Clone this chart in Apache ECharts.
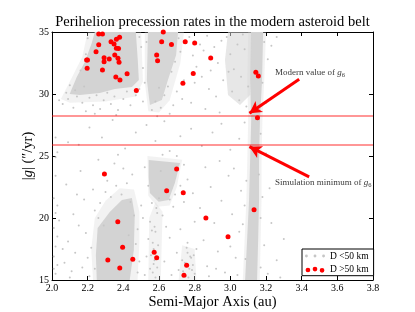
<!DOCTYPE html>
<html><head><meta charset="utf-8">
<script src="https://cdn.jsdelivr.net/npm/echarts@6/dist/echarts.min.js"></script>
<style>html,body{margin:0;padding:0;background:#fff}#c{width:415px;height:312px}</style>
</head><body><div id="c"></div>
<script>
// ---- data ----
const xRange = [2.0, 3.8];
const yRange = [15, 35];
const xTickStep = 0.2;
const yTickStep = 5;

// Large asteroids (D > 50 km): [a (au), |g| ("/yr)]
const largeAsteroids = [
  [2.262,34.84],[2.283,34.84],[2.379,34.57],[2.361,34.42],[2.331,34.22],[2.348,34.03],
  [2.262,33.98],[2.361,33.69],[2.373,33.67],[2.247,33.41],[2.352,33.15],[2.292,32.93],
  [2.321,32.83],[2.370,32.89],[2.194,32.74],[2.199,32.74],[2.292,32.60],[2.376,32.56],
  [2.197,32.07],[2.283,31.94],[2.421,31.64],[2.358,31.37],[2.381,31.13],[2.473,30.28],
  [2.615,34.22],[2.670,33.99],[2.587,33.15],[2.592,32.69],[2.747,34.22],[2.800,34.11],
  [2.890,32.90],[2.792,31.65],[2.734,30.86],[3.143,31.76],[3.157,31.45],[3.152,28.09],
  [2.624,35.0],
  [2.294,23.55],[2.699,23.95],[2.643,22.20],[2.369,19.70],[2.396,17.64],[2.313,16.61],
  [2.453,16.67],[2.380,15.97],[2.573,17.23],[2.587,16.80],[2.736,22.04],[2.863,20.00],
  [2.987,18.49],[3.133,20.67],[2.755,16.19],[2.740,15.38]
];

// Small asteroids (D < 50 km), sparse outliers
const smallSparse = [
  [2.06,29.2],[2.09,29.6],[2.12,28.9],[2.14,29.8],[2.17,29.3],[2.19,28.6],[2.21,29.7],[2.23,29.1],
  [2.25,29.9],[2.27,28.8],[2.29,29.5],[2.31,30.1],[2.33,29.2],[2.35,29.8],[2.37,28.7],[2.40,29.6],
  [2.42,30.2],[2.44,29.1],[2.47,29.9],[2.49,30.4],[2.13,30.3],[2.18,30.6],[2.24,28.4],[2.36,28.3],
  [2.16,31.9],[2.19,33.2],[2.20,34.5],[2.10,30.7],[2.08,30.1],[2.04,29.5],
  [2.50,33.8],[2.51,32.1],[2.49,34.6],[2.52,30.9],[2.51,29.4],[2.53,34.2],
  [2.56,28.7],[2.58,29.4],[2.61,28.9],[2.63,29.9],[2.65,30.6],[2.67,31.8],[2.69,32.6],[2.70,30.2],
  [2.72,33.4],[2.71,34.5],[2.68,29.1],[2.59,28.2],[2.74,31.1],[2.73,29.6],[2.60,30.5],[2.66,28.4],
  [2.77,34.6],[2.79,33.1],[2.81,32.2],[2.83,34.0],[2.85,33.5],[2.84,31.4],[2.87,34.7],[2.89,31.9],
  [2.91,33.8],[2.93,32.5],[2.95,34.3],[2.96,31.1],[2.88,30.4],[2.80,30.9],[2.92,29.8],[2.78,29.3],
  [2.86,28.8],[2.94,28.5],
  [2.98,34.6],[3.00,33.2],[3.02,32.0],[3.04,34.0],[3.06,31.4],[3.08,33.6],[3.10,30.6],[3.01,30.2],
  [3.05,29.5],[3.09,29.0],[2.99,31.8],[3.07,34.8],
  [3.19,34.2],[3.21,32.8],[3.23,33.9],[3.26,34.6],[3.18,30.9],[3.20,29.3],
  [2.03,25.3],[2.09,26.1],[2.21,27.3],[2.28,26.5],[2.34,27.9],[2.41,25.6],[2.47,26.9],[2.53,27.5],
  [2.58,26.2],[2.63,27.8],[2.66,25.4],[2.72,26.6],[2.78,27.2],[2.84,25.8],[2.90,26.9],[2.95,27.6],
  [3.00,25.5],[3.05,26.4],[3.08,27.7],[3.17,26.8],[3.20,25.2],[2.37,25.1],[2.15,25.9],[2.02,24.9],
  [2.02,26.5],
  [2.01,21.6],[2.02,20.4],[2.01,19.2],[2.03,18.5],[2.02,17.7],[2.01,16.9],[2.03,16.2],[2.02,15.5],
  [2.04,19.8],[2.01,15.9],[2.03,21.0],[2.02,23.4],
  [2.07,16.4],[2.09,18.1],[2.11,15.7],[2.13,17.2],[2.15,19.4],[2.17,16.0],[2.19,18.8],[2.21,15.3],
  [2.22,17.6],[2.24,20.6],[2.12,20.3],[2.18,21.5],[2.08,22.7],[2.16,23.8],[2.23,22.3],[2.20,16.8],
  [2.10,15.2],[2.24,15.9],[2.06,17.5],[2.14,21.9],
  [2.27,21.2],[2.30,22.1],[2.33,21.7],[2.36,22.6],[2.39,21.9],[2.42,22.8],[2.44,21.3],[2.46,20.2],
  [2.48,19.1],[2.47,17.9],[2.49,16.5],[2.48,15.6],[2.26,20.0],[2.29,19.4],[2.31,23.0],[2.40,24.0],
  [2.45,23.5],[2.35,24.4],[2.26,24.7],[2.43,18.6],[2.50,21.0],
  [2.52,15.4],[2.53,16.9],[2.54,18.3],[2.55,19.7],[2.56,21.2],[2.55,15.9],[2.57,17.5],[2.58,18.9],
  [2.59,20.4],[2.57,16.3],[2.56,19.0],[2.58,15.2],[2.54,22.6],[2.52,24.1],[2.51,20.0],[2.60,21.6],
  [2.59,16.0],[2.555,17.0],[2.565,18.0],[2.575,19.3],[2.585,20.8],[2.565,15.6],[2.575,16.6],[2.595,17.8],
  [2.62,20.2],[2.64,19.3],[2.66,18.4],[2.68,20.9],[2.70,17.2],[2.72,19.1],[2.74,21.3],[2.76,18.0],
  [2.78,16.8],[2.80,19.7],[2.81,17.5],[2.63,16.5],[2.67,15.4],[2.71,15.8],[2.75,15.3],[2.77,15.9],
  [2.79,16.2],[2.73,16.6],[2.76,17.2],[2.80,15.5],[2.72,22.6],[2.74,24.3],[2.70,25.0],[2.62,25.1],
  [2.76,23.1],[2.79,22.0],[2.66,21.5],[2.61,23.8],[2.69,21.9],
  [2.735,15.7],[2.745,16.4],[2.765,15.2],[2.775,16.9],[2.785,15.8],[2.755,17.6],[2.795,17.0],
  [2.83,20.8],[2.85,18.2],[2.87,16.1],[2.89,22.5],[2.91,19.6],[2.93,17.3],[2.95,21.4],[2.97,15.6],
  [2.99,23.4],[3.01,20.3],[3.03,16.8],[3.05,18.9],[3.06,22.2],[2.86,24.1],[2.94,24.6],[3.02,24.0],
  [2.88,15.3],[3.04,15.4],[2.92,15.9],[3.00,17.7],
  [3.17,16.0],[3.19,17.8],[3.21,15.5],[3.23,19.6],[3.18,21.7],[3.26,16.6],[3.28,15.2],[3.16,23.5],
  [3.22,22.4],[3.30,18.3],[3.07,19.5],[3.08,21.0],[3.09,23.0],[3.085,16.7],[3.17,20.0]
];

// Clouds of small asteroids, outlined as polygons [a, |g|]; faint outer halos first, dense cores after
const haloInnerUpper = [[2.20,35],[2.50,35],[2.51,31.0],[2.47,29.8],[2.30,29.4],[2.10,29.3],[2.05,29.6],[2.10,31.0],[2.17,33.0]];
const haloMiddleUpper = [[2.52,35],[2.74,35],[2.72,32.5],[2.66,29.5],[2.60,28.5],[2.54,28.6],[2.52,31.0]];
const haloInnerLower = [[2.23,15],[2.48,15],[2.49,18],[2.49,20.5],[2.46,22.3],[2.38,22.4],[2.30,21.4],[2.24,20.0],[2.22,17.5]];
const haloMiddleColumn = [[2.54,15],[2.61,15],[2.62,20.5],[2.58,21.3],[2.545,20.0]];
const haloBottom = [[2.71,15],[2.81,15],[2.80,17.5],[2.73,17.8]];
const haloOuterColumn = [[3.10,35],[3.20,35],[3.19,31],[3.18,27.9],[3.175,24.7],[3.175,21.45],[3.17,18.2],[3.165,15],
  [3.07,15],[3.08,18.2],[3.09,21.45],[3.095,24.7],[3.10,27.9],[3.095,31]];
const haloMiddleLower = [[2.535,25.0],[2.73,24.7],[2.70,22.5],[2.66,21.0],[2.59,20.9],[2.54,21.8]];
const cloudInnerUpper = [[2.240,35],[2.470,35],[2.481,32.74],[2.487,31.13],[2.448,30.56],[2.352,30.40],
  [2.268,30.08],[2.156,29.92],[2.099,30.0],[2.139,31.37],[2.184,32.58],[2.223,34.11]];
const cloudMiddleUpper = [[2.538,35],[2.707,35],[2.696,33.15],[2.650,31.13],[2.616,29.52],[2.549,29.11],[2.532,31.13]];
const cloudOuterColumn = [[3.116,35],[3.184,35],[3.178,31.13],[3.166,27.90],[3.161,24.68],[3.161,21.45],
  [3.156,18.23],[3.150,15],[3.083,15],[3.094,18.23],[3.105,21.45],[3.111,24.68],[3.117,27.90],[3.111,31.13]];
const cloudInnerLower = [[2.251,15],[2.436,15],[2.459,17.42],[2.464,20.24],[2.448,21.61],[2.392,21.45],
  [2.324,20.48],[2.256,19.19],[2.246,17.02]];
const cloudMiddleLower = [[2.542,24.68],[2.718,24.44],[2.689,22.82],[2.654,21.45],[2.598,21.31],[2.549,22.02],[2.542,23.33]];
const cloudNearOuter = [[2.987,35],[3.122,35],[3.111,29.92],[3.054,29.11],[2.987,29.92],[2.970,32.74]];
const clouds = [haloInnerUpper, haloMiddleUpper, haloInnerLower, haloMiddleColumn, haloBottom, haloOuterColumn, haloMiddleLower,
  cloudInnerUpper, cloudMiddleUpper, cloudOuterColumn, cloudInnerLower, cloudMiddleLower, cloudNearOuter];

const g6Modern = 28.25;
const g6SimMin = 25.9;
const arrowModern = [[3.386,31.19],[3.107,28.44]];
const arrowSimMin = [[3.442,23.31],[3.107,25.75]];
const notePositions = [[3.251,31.72],[3.251,22.85]];
const noteTexts = ['Modern value of {i|g}{s|6}', 'Simulation minimum of {i|g}{s|6}'];

// ---- styles ----
const haloFill = 'rgba(211,211,211,0.3)';
const cloudFills = [haloFill, haloFill, haloFill, haloFill, haloFill, haloFill, haloFill,
  '#d3d3d3','#d6d6d6','#d3d3d3','#d3d3d3','#d3d3d3','rgba(211,211,211,0.55)'];
const FONT = '"Liberation Serif","Times New Roman",serif';
const grey = '#c6c6c6';

const chart = echarts.init(document.getElementById('c'), null, {renderer:'canvas'});
const axisCommon = {
  type:'value', splitLine:{show:false},
  axisLine:{show:true, onZero:false, lineStyle:{color:'#000', width:1}},
  axisTick:{show:true, inside:true, length:4, lineStyle:{color:'#000', width:1}}
};
chart.setOption({
  animation:false,
  backgroundColor:'#fff',
  textStyle:{fontFamily:FONT},
  title:{text:'Perihelion precession rates in the modern asteroid belt', left:212.5, textAlign:'center', top:15, padding:0,
    textStyle:{fontFamily:FONT, fontSize:14.5, fontWeight:'normal', color:'#000'}},
  grid:{left:52, right:42, top:32, bottom:32, outerBoundsMode:'none', containLabel:false},
  legend:{
    left:302, top:249, orient:'vertical', padding:[2,5,1,3], itemGap:3.7,
    backgroundColor:'#fff', borderColor:'#000', borderWidth:1, borderRadius:0,
    itemWidth:20, itemHeight:6, selectedMode:false,
    textStyle:{fontFamily:FONT, fontSize:9.5, color:'#000', lineHeight:9},
    data:[
      {name:'D <50 km', icon:'path://M1,3a1,1 0 1,0 2,0a1,1 0 1,0 -2,0zM7,3a1,1 0 1,0 2,0a1,1 0 1,0 -2,0zM13,3a1,1 0 1,0 2,0a1,1 0 1,0 -2,0z'},
      {name:'D >50 km', icon:'path://M0,3a2,2 0 1,0 4,0a2,2 0 1,0 -4,0zM6,2.2a2,2 0 1,0 4,0a2,2 0 1,0 -4,0zM12,3.3a2,2 0 1,0 4,0a2,2 0 1,0 -4,0z'}
    ]
  },
  xAxis:[
    Object.assign({}, axisCommon, {min:xRange[0], max:xRange[1], interval:xTickStep, position:'bottom',
      axisLabel:{margin:3, fontSize:10, color:'#000', fontFamily:FONT, formatter:v=>v.toFixed(1)},
      name:'Semi-Major Axis (au)', nameLocation:'middle', nameGap:14.5, nameMoveOverlap:false,
      nameTextStyle:{fontSize:14.5, color:'#000', fontFamily:FONT}}),
    Object.assign({}, axisCommon, {min:xRange[0], max:xRange[1], interval:xTickStep, position:'top', axisLabel:{show:false}})
  ],
  yAxis:[
    Object.assign({}, axisCommon, {min:yRange[0], max:yRange[1], interval:yTickStep, position:'left',
      axisLabel:{margin:3, fontSize:10, color:'#000', fontFamily:FONT},
      name:'|{i|g}| (\u2033/yr)', nameLocation:'middle', nameGap:16.5, nameRotate:90, nameMoveOverlap:false,
      nameTextStyle:{fontSize:14.5, color:'#000', fontFamily:FONT,
        rich:{i:{fontSize:14.5, fontStyle:'italic', fontFamily:FONT, color:'#000'}}}}),
    Object.assign({}, axisCommon, {min:yRange[0], max:yRange[1], interval:yTickStep, position:'right', axisLabel:{show:false}})
  ],
  series:[
    {
      name:'clouds', type:'custom', silent:true, clip:true, z:1,
      data: clouds.map((c, i) => [c[0][0], c[0][1], i]),
      renderItem:(params, api) => {
        const idx = api.value(2);
        return {type:'polygon', shape:{points: clouds[idx].map(p => api.coord(p))},
          style:{fill: cloudFills[idx]}};
      }
    },
    {
      name:'D <50 km', type:'scatter', symbol:'circle', symbolSize:2, z:2, silent:true,
      itemStyle:{color:grey, opacity:1}, data: smallSparse,
      markLine:{silent:true, symbol:'none', animation:false, label:{show:false},
        lineStyle:{color:'rgba(255,0,0,0.55)', width:1.5, type:'solid'},
        emphasis:{disabled:true},
        data:[{yAxis:g6Modern},{yAxis:g6SimMin}]}
    },
    {
      name:'D >50 km', type:'scatter', symbol:'circle', symbolSize:5, z:4, silent:true,
      itemStyle:{color:'#ff0000', opacity:1}, data: largeAsteroids
    },
    {
      name:'notes', type:'scatter', symbolSize:0, z:5, silent:true,
      data: notePositions.map((p, i) => ({value:p, label:{formatter: noteTexts[i]}})),
      label:{show:true, position:'right', distance:0, color:'#000', fontFamily:FONT, fontSize:9,
        rich:{i:{fontStyle:'italic', fontFamily:FONT, fontSize:9, color:'#000'},
              s:{fontFamily:FONT, fontSize:6.5, color:'#000', padding:[6,0,0,0]}}},
      markLine:{silent:true, symbol:['none','arrow'], symbolSize:[10,12], animation:false,
        label:{show:false}, emphasis:{disabled:true},
        lineStyle:{color:'#ff0000', width:3, type:'solid'},
        data:[[{coord:arrowModern[0]},{coord:arrowModern[1]}],[{coord:arrowSimMin[0]},{coord:arrowSimMin[1]}]]}
    }
  ]
});
</script></body></html>
